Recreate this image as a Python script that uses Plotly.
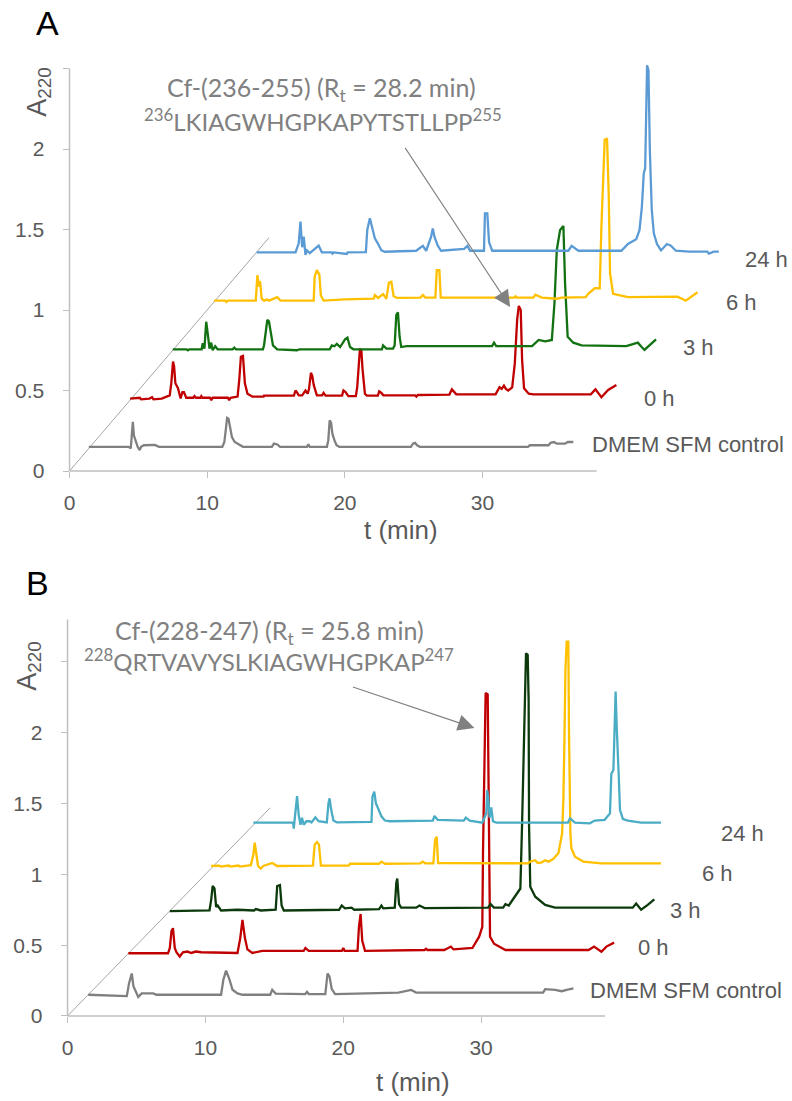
import plotly.graph_objects as go

W, H = 792, 1101          # reference picture size (all layout positions are given in its pixels)
H_PAGE = 1112             # figure height: the photograph maps 1112 page rows onto 1101 picture rows
KY = H_PAGE / H

# ---------------- data (raw retention time in min, absorbance above each trace's baseline) ----------------
SAMPLES = ["DMEM SFM control", "0 h", "3 h", "6 h", "24 h"]
SHIFT_T = [1.5, 4.5, 7.5, 10.5, 13.5]      # pseudo-3D offsets of the stacked chromatograms
SHIFT_A = [0.15, 0.45, 0.75, 1.05, 1.35]

A_ctrl = [(-0.1, 0.0), (2.8, 0.0), (2.95, -0.01), (3.02, 0.08), (3.1, 0.155), (3.18, 0.07), (3.3, 0.04),
          (3.45, 0.0), (3.6, -0.02), (3.7, 0.0), (3.9, 0.01), (4.5, 0.01), (4.7, 0.012), (5.0, 0.0),
          (9.6, 0.0), (9.75, 0.03), (9.85, 0.12), (9.95, 0.18), (10.05, 0.175), (10.15, 0.12), (10.3, 0.06),
          (10.5, 0.03), (10.8, 0.015), (11.1, 0.0), (13.2, 0.0), (13.35, 0.02), (13.6, 0.015), (13.8, 0.0),
          (15.75, 0.0), (15.85, 0.015), (15.95, 0.0), (17.2, 0.0), (17.3, 0.04), (17.4, 0.165), (17.5, 0.15),
          (17.6, 0.08), (17.75, 0.04), (17.9, 0.01), (18.1, 0.0), (23.3, 0.0), (23.45, 0.02), (23.6, 0.025),
          (23.75, 0.01), (23.95, 0.0), (31.8, 0.0), (31.95, 0.01), (33.3, 0.01), (33.45, 0.025), (33.7, 0.03),
          (33.9, 0.02), (34.5, 0.02), (34.7, 0.03), (35.1, 0.03)]

A_0h = [(-0.1, 0.0), (0.6, 0.005), (0.7, -0.005), (1.3, 0.0), (1.5, 0.008), (1.6, -0.005), (2.2, 0.0),
        (2.78, 0.02), (2.9, 0.1), (3.02, 0.23), (3.1, 0.2), (3.19, 0.095), (3.38, 0.064), (3.57, 0.0),
        (3.7, 0.04), (3.81, 0.04), (3.98, 0.005), (4.5, 0.005), (4.58, 0.015), (4.7, 0.005), (5.0, 0.005),
        (5.07, 0.015), (5.15, 0.005), (5.7, 0.005), (5.8, -0.01), (5.9, 0.005), (7.0, 0.005), (7.1, -0.01),
        (7.2, 0.005), (7.71, 0.012), (7.83, 0.115), (7.95, 0.26), (8.1, 0.265), (8.24, 0.095), (8.43, 0.03),
        (8.79, 0.012), (9.6, 0.012), (9.63, 0.018), (11.8, 0.018), (11.92, 0.05), (12.05, 0.035),
        (12.15, 0.02), (12.4, 0.02), (12.64, 0.05), (12.8, 0.03), (12.9, 0.06), (13.04, 0.16), (13.14, 0.14),
        (13.24, 0.085), (13.47, 0.02), (13.85, 0.02), (13.96, 0.035), (14.1, 0.018), (15.3, 0.018),
        (15.4, 0.05), (15.55, 0.04), (15.76, 0.015), (16.3, 0.015), (16.4, 0.07), (16.5, 0.2), (16.6, 0.31),
        (16.7, 0.3), (16.79, 0.18), (16.96, 0.03), (17.1, 0.018), (17.9, 0.018), (18.0, 0.045),
        (18.15, 0.035), (18.3, 0.02), (20.6, 0.02), (20.7, 0.012), (20.8, 0.022), (23.1, 0.025),
        (23.28, 0.057), (23.45, 0.04), (23.6, 0.026), (26.45, 0.026), (26.74, 0.07), (26.9, 0.06),
        (27.06, 0.08), (27.2, 0.06), (27.37, 0.05), (27.66, 0.07), (27.85, 0.22), (28.02, 0.49),
        (28.14, 0.575), (28.28, 0.55), (28.38, 0.24), (28.52, 0.064), (28.86, 0.03), (29.2, 0.026),
        (33.37, 0.026), (33.71, 0.057), (34.14, 0.008), (34.63, 0.053), (35.23, 0.084)]

A_3h = [(0.0, 0.006), (1.0, 0.006), (1.1, 0.0), (1.2, 0.006), (2.1, 0.006), (2.18, 0.043), (2.3, 0.01),
        (2.43, 0.177), (2.54, 0.105), (2.67, 0.01), (2.79, 0.047), (2.9, 0.0), (3.08, 0.025), (3.26, 0.006),
        (4.35, 0.006), (4.47, 0.016), (4.6, 0.006), (6.55, 0.006), (6.63, 0.03), (6.75, 0.126), (6.87, 0.188),
        (6.99, 0.18), (7.11, 0.106), (7.28, 0.03), (7.59, 0.006), (9.03, 0.0), (9.2, 0.006), (11.4, 0.006),
        (11.56, 0.03), (11.75, 0.025), (11.92, 0.04), (12.16, 0.02), (12.52, 0.068), (12.69, 0.078),
        (12.88, 0.02), (13.12, 0.006), (15.2, 0.006), (15.28, 0.03), (15.52, 0.01), (16.0, 0.01),
        (16.12, 0.03), (16.24, 0.219), (16.36, 0.236), (16.48, 0.084), (16.6, 0.02), (17.0, 0.026),
        (23.2, 0.026), (23.34, 0.047), (23.5, 0.026), (26.1, 0.026), (26.22, 0.035), (26.58, 0.064),
        (27.06, 0.055), (27.54, 0.064), (27.73, 0.292), (27.9, 0.623), (28.14, 0.747), (28.38, 0.772),
        (28.5, 0.416), (28.69, 0.084), (29.1, 0.047), (29.7, 0.03), (32.95, 0.026), (33.79, 0.047),
        (34.0, 0.026), (34.27, 0.002), (35.11, 0.068)]

A_6h = [(0.0, 0.008), (0.8, 0.008), (0.9, 0.0), (1.0, 0.008), (2.5, 0.008), (3.03, 0.008), (3.15, 0.167),
        (3.27, 0.095), (3.34, 0.13), (3.46, 0.02), (3.63, 0.008), (3.87, 0.015), (4.0, 0.008), (4.59, 0.03),
        (4.83, 0.008), (7.24, 0.008), (7.31, 0.157), (7.47, 0.198), (7.65, 0.17), (7.76, 0.04), (7.96, 0.008),
        (9.52, 0.016), (11.6, 0.02), (11.68, 0.043), (11.92, 0.025), (12.28, 0.049), (12.52, 0.02),
        (12.7, 0.12), (12.88, 0.125), (13.05, 0.035), (13.3, 0.025), (15.0, 0.027), (15.17, 0.043),
        (15.35, 0.027), (16.08, 0.027), (16.18, 0.198), (16.37, 0.198), (16.47, 0.027), (21.8, 0.027),
        (21.9, 0.035), (22.0, 0.027), (23.2, 0.027), (23.34, 0.045), (23.82, 0.027), (24.9, 0.02),
        (25.26, 0.027), (27.0, 0.03), (27.18, 0.05), (27.66, 0.085), (28.02, 0.085), (28.14, 0.467),
        (28.26, 0.8), (28.38, 1.006), (28.55, 1.016), (28.67, 0.675), (28.77, 0.178), (28.99, 0.05),
        (30.07, 0.03), (33.5, 0.03), (33.67, 0.033), (34.27, 0.008), (35.12, 0.06)]

A_24h = [(0.1, 0.008), (2.92, 0.008), (3.15, 0.064), (3.28, 0.199), (3.4, 0.04), (3.52, 0.105), (3.64, -0.008),
         (3.75, 0.02), (3.95, 0.003), (4.47, 0.04), (4.6, 0.05), (4.83, 0.008), (5.56, 0.008), (5.6, 0.0),
         (5.7, 0.008), (6.64, -0.002), (6.7, 0.008), (8.03, 0.01), (8.13, 0.147), (8.32, 0.22), (8.5, 0.147),
         (8.68, 0.095), (8.92, 0.06), (9.16, 0.02), (9.4, 0.012), (11.68, 0.018), (12.17, 0.048),
         (12.41, 0.018), (12.77, 0.105), (12.89, 0.157), (13.01, 0.105), (13.25, 0.05), (13.49, 0.018),
         (15.17, 0.03), (15.41, 0.048), (15.6, 0.018), (16.61, 0.018), (16.68, 0.25), (16.85, 0.25),
         (16.98, 0.07), (17.21, 0.018), (22.74, 0.018), (22.98, 0.048), (23.47, 0.018), (26.59, 0.018),
         (27.07, 0.06), (27.67, 0.089), (27.91, 0.147), (28.08, 0.29), (28.22, 0.5), (28.32, 0.53),
         (28.39, 0.913), (28.46, 1.17), (28.56, 1.14), (28.66, 0.644), (28.8, 0.271), (28.95, 0.126),
         (29.18, 0.06), (29.47, 0.02), (29.9, 0.06), (30.19, 0.05), (30.55, 0.018), (31.51, 0.012),
         (32.84, 0.012), (32.95, 0.0), (33.31, 0.012), (33.67, 0.012)]

B_ctrl = [(0.0, 0.0), (2.8, -0.01), (2.96, 0.08), (3.16, 0.15), (3.28, 0.06), (3.4, 0.035), (3.63, -0.015),
          (3.88, 0.01), (4.35, 0.008), (4.71, 0.01), (4.95, 0.0), (9.64, 0.0), (9.8, 0.104), (10.0, 0.17),
          (10.24, 0.11), (10.47, 0.035), (10.83, 0.01), (11.2, 0.0), (13.2, 0.0), (13.35, 0.035), (13.6, 0.008),
          (15.75, 0.005), (15.87, 0.02), (16.0, 0.005), (17.2, 0.005), (17.36, 0.15), (17.5, 0.13),
          (17.67, 0.04), (17.91, 0.005), (22.5, 0.015), (23.43, 0.034), (23.79, 0.015), (33.0, 0.015),
          (33.15, 0.04), (33.87, 0.035), (34.35, 0.025), (34.71, 0.035), (35.2, 0.045)]

B_0h = [(-0.09, -0.007), (2.79, -0.007), (2.92, 0.03), (3.04, 0.15), (3.15, 0.17), (3.28, 0.03), (3.4, 0.0),
        (3.64, -0.03), (3.87, 0.0), (4.2, 0.005), (4.48, -0.005), (4.8, 0.005), (5.2, 0.0), (7.83, -0.005),
        (8.03, 0.1), (8.19, 0.228), (8.37, 0.1), (8.55, 0.02), (8.91, -0.005), (9.63, 0.01), (12.63, 0.01),
        (12.76, 0.03), (12.99, 0.01), (15.4, 0.01), (15.51, 0.03), (15.6, 0.01), (16.54, 0.01), (16.64, 0.18),
        (16.76, 0.27), (16.88, 0.08), (17.08, 0.01), (21.4, 0.016), (21.51, 0.025), (21.6, 0.016),
        (22.83, 0.016), (23.31, 0.04), (23.5, 0.02), (24.87, 0.03), (25.36, 0.11), (25.59, 0.18), (25.64, 0.7),
        (25.74, 1.24), (25.83, 1.83), (25.98, 1.82), (26.03, 1.26), (26.1, 0.37), (26.15, 0.11), (26.44, 0.06),
        (26.8, 0.04), (27.27, 0.016), (33.3, 0.016), (33.7, 0.04), (34.23, 0.004), (34.59, 0.04), (35.15, 0.068)]

B_3h = [(-0.08, -0.009), (2.8, -0.005), (2.92, 0.07), (3.03, 0.168), (3.16, 0.15), (3.28, 0.02), (3.39, 0.03),
        (3.64, -0.005), (4.83, 0.0), (6.03, -0.005), (6.16, 0.005), (6.52, -0.005), (7.6, 0.0), (7.71, 0.168),
        (7.91, 0.175), (8.03, 0.03), (8.19, -0.005), (12.2, 0.0), (12.39, 0.03), (12.63, 0.01), (13.11, 0.015),
        (13.3, 0.0), (15.1, 0.005), (15.27, 0.03), (15.4, 0.01), (16.24, 0.015), (16.35, 0.19), (16.42, 0.22),
        (16.55, 0.04), (16.7, 0.015), (17.79, 0.015), (18.03, 0.03), (18.4, 0.012), (23.0, 0.015),
        (23.19, 0.04), (23.43, 0.015), (24.1, 0.015), (24.27, 0.04), (24.51, 0.03), (24.99, 0.1), (25.35, 0.15),
        (25.47, 0.586), (25.67, 1.387), (25.76, 1.81), (25.88, 1.8), (25.95, 1.48), (25.98, 0.6),
        (26.07, 0.163), (26.43, 0.092), (27.15, 0.034), (27.87, 0.015), (33.5, 0.015), (33.75, 0.044),
        (34.11, 0.0), (34.59, 0.035), (35.07, 0.074)]

B_6h = [(-0.08, 0.009), (0.5, 0.012), (0.6, 0.005), (1.2, 0.012), (1.3, 0.005), (1.9, 0.012), (2.0, 0.005),
        (2.8, 0.015), (2.98, 0.09), (3.08, 0.173), (3.2, 0.09), (3.32, 0.009), (3.52, -0.01), (3.7, 0.009),
        (4.35, 0.03), (4.71, 0.009), (7.3, 0.012), (7.43, 0.16), (7.59, 0.178), (7.74, 0.16), (7.88, 0.012),
        (9.9, 0.012), (10.0, 0.025), (12.1, 0.025), (12.27, 0.04), (12.52, 0.025), (15.1, 0.028),
        (15.27, 0.04), (15.45, 0.028), (16.04, 0.028), (16.16, 0.192), (16.28, 0.216), (16.38, 0.03),
        (22.9, 0.028), (23.07, 0.04), (23.43, 0.05), (23.6, 0.03), (23.9, 0.035), (24.15, 0.05), (24.4, 0.04),
        (24.75, 0.06), (25.11, 0.1), (25.38, 0.24), (25.47, 0.475), (25.55, 0.922), (25.62, 1.393),
        (25.71, 1.593), (25.83, 1.593), (25.88, 0.946), (25.98, 0.24), (26.05, 0.134), (26.31, 0.075),
        (26.91, 0.04), (28.23, 0.028), (32.55, 0.028)]

B_24h = [(-0.02, 0.015), (2.86, 0.017), (2.91, -0.027), (3.04, 0.104), (3.15, 0.203), (3.27, 0.07), (3.4, 0.0),
         (3.51, 0.05), (3.63, 0.0), (3.83, 0.025), (4.07, 0.025), (4.2, 0.017), (4.48, 0.053), (4.71, 0.025),
         (5.31, 0.017), (5.43, 0.152), (5.51, 0.187), (5.63, 0.104), (5.79, 0.03), (6.03, 0.017), (8.55, 0.02),
         (8.62, 0.198), (8.75, 0.234), (8.87, 0.152), (9.03, 0.11), (9.27, 0.06), (9.52, 0.03), (9.88, 0.025),
         (13.0, 0.029), (13.12, 0.062), (13.35, 0.035), (15.25, 0.029), (15.39, 0.05), (15.68, 0.029),
         (16.59, 0.015), (16.88, 0.081), (16.95, 0.245), (17.03, 0.18), (17.12, 0.05), (17.24, 0.123),
         (17.36, 0.025), (17.6, 0.015), (22.8, 0.015), (22.95, 0.046), (23.31, 0.015), (24.39, 0.01),
         (24.75, 0.03), (25.47, 0.035), (25.85, 0.08), (25.95, 0.36), (26.1, 0.387), (26.19, 0.692),
         (26.26, 0.94), (26.34, 0.69), (26.38, 0.551), (26.48, 0.36), (26.58, 0.104), (26.79, 0.04),
         (27.15, 0.03), (28.11, 0.015), (29.55, 0.015)]

PANEL_A = [A_ctrl, A_0h, A_3h, A_6h, A_24h]
PANEL_B = [B_ctrl, B_0h, B_3h, B_6h, B_24h]

X_TICKS = [0, 10, 20, 30]
Y_TICKS = [0, 0.5, 1, 1.5, 2, 2.5]
Y_TICKTEXT = ["0", "0.5", "1", "1.5", "2", ""]

# ---------------- styling ----------------
COLORS_A = ["#808080", "#c00000", "#127212", "#ffc000", "#5b9bd5"]
COLORS_B = ["#808080", "#c00000", "#0c3a0c", "#ffc000", "#4bacc6"]
AXIS_COL = "#bfbfbf"
TXT_COL = "#595959"
ANN_COL = "#808080"
ARIAL = "Liberation Sans, Arial, sans-serif"
CAL = "Lato, Carlito, Calibri, sans-serif"


def pxx(x):
    return x / W


def pxy(y):
    return 1 - y / H


fig = go.Figure()

for panel, colors, xa, ya in [(PANEL_A, COLORS_A, "x", "y"), (PANEL_B, COLORS_B, "x2", "y2")]:
    for i, trace in enumerate(panel):
        t = [p[0] + SHIFT_T[i] for p in trace]
        a = [p[1] + SHIFT_A[i] for p in trace]
        fig.add_trace(go.Scatter(x=t, y=a, mode="lines", name=SAMPLES[i], showlegend=False,
                                 line=dict(color=colors[i], width=2.3), xaxis=xa, yaxis=ya,
                                 hoverinfo="skip"))

# axis geometry (reference pixels)
A_org = (64, 471); A_xpx = 13.87; A_ypx = 161.0
B_org = (62, 1016); B_xpx = 13.89; B_ypx = 141.65
A_xr = [0, 48]; A_yr = [0, 2.6]
B_xr = [0, 44]; B_yr = [0, 2.85]

common_x = dict(showgrid=False, zeroline=False, showline=False, ticks="outside", ticklen=6, tickwidth=1,
                tickcolor=AXIS_COL, tickvals=X_TICKS, tickfont=dict(family=ARIAL, size=21, color=TXT_COL),
                fixedrange=True, ticklabelstandoff=7)
common_y = dict(showgrid=False, zeroline=False, showline=False, ticks="outside", ticklen=6, tickwidth=1,
                tickcolor=AXIS_COL, tickvals=Y_TICKS, ticktext=Y_TICKTEXT,
                tickfont=dict(family=ARIAL, size=21, color=TXT_COL), fixedrange=True, ticklabelstandoff=14)

fig.update_layout(
    width=W, height=H_PAGE, margin=dict(l=0, r=0, t=0, b=0), autosize=False,
    paper_bgcolor="white", plot_bgcolor="rgba(0,0,0,0)",
    xaxis=dict(common_x, range=A_xr, anchor="y",
               domain=[pxx(A_org[0]), pxx(A_org[0] + A_xr[1] * A_xpx)]),
    yaxis=dict(common_y, range=A_yr, anchor="x",
               domain=[pxy(A_org[1]), pxy(A_org[1] - A_yr[1] * A_ypx)]),
    xaxis2=dict(common_x, range=B_xr, anchor="y2",
                domain=[pxx(B_org[0]), pxx(B_org[0] + B_xr[1] * B_xpx)]),
    yaxis2=dict(common_y, range=B_yr, anchor="x2",
                domain=[pxy(B_org[1]), pxy(B_org[1] - B_yr[1] * B_ypx)]),
)

shapes = []
# axis lines (paper coords from pixel geometry)
for org, xpx, ypx, xend, ytop in [(A_org, A_xpx, A_ypx, 38.3, 2.5), (B_org, B_xpx, B_ypx, 39.0, 2.8)]:
    shapes.append(dict(type="line", xref="paper", yref="paper", x0=pxx(org[0]), y0=pxy(org[1]),
                       x1=pxx(org[0] + xend * xpx), y1=pxy(org[1]), line=dict(color=AXIS_COL, width=1.5)))
    shapes.append(dict(type="line", xref="paper", yref="paper", x0=pxx(org[0]), y0=pxy(org[1]),
                       x1=pxx(org[0]), y1=pxy(org[1] - ytop * ypx), line=dict(color=AXIS_COL, width=1.5)))
# depth diagonal
shapes.append(dict(type="line", xref="x", yref="y", x0=0, y0=0, x1=14.5, y1=1.45,
                   line=dict(color="#a6a6a6", width=1), layer="below"))
shapes.append(dict(type="line", xref="x2", yref="y2", x0=0, y0=0, x1=14.7, y1=1.47,
                   line=dict(color="#a6a6a6", width=1), layer="below"))
fig.update_layout(shapes=shapes)

ann = []


def text(x, y, s, size, color=TXT_COL, family=ARIAL, angle=0, xanchor="center"):
    ann.append(dict(x=pxx(x), y=pxy(y), xref="paper", yref="paper", text=s, showarrow=False,
                    xanchor=xanchor, yanchor="middle", textangle=angle, borderpad=0,
                    font=dict(family=family, size=size, color=color)))


# panel letters
text(42, 23, "A", 34, color="black")
text(32, 583, "B", 34, color="black")
# axis titles
text(33, 92, "A<sub>220</sub>", 27, angle=-90)
text(23, 666, "A<sub>220</sub>", 27, angle=-90)
text(398, 530, "t (min)", 26)
text(410, 1082, "t (min)", 26)
# sample labels
A_lab = [(687, 445), (658, 398), (698, 347), (741, 302), (766, 259)]
B_lab = [(685, 990), (652, 948), (685, 910), (717, 873), (742, 833)]
for i, s in enumerate(SAMPLES):
    text(A_lab[i][0], A_lab[i][1], s, 22)
    text(B_lab[i][0], B_lab[i][1], s, 22)
# peptide annotations
text(318, 89, "Cf-(236-255) (R<sub>t</sub> = 28.2 min)", 25, color=ANN_COL, family=CAL)
text(319, 120, "<sup>236</sup>LKIAGWHGPKAPYTSTLLPP<sup>255</sup>", 24, color=ANN_COL, family=CAL)
text(266, 632, "Cf-(228-247) (R<sub>t</sub> = 25.8 min)", 25, color=ANN_COL, family=CAL)
text(265, 660, "<sup>228</sup>QRTVAVYSLKIAGWHGPKAP<sup>247</sup>", 24, color=ANN_COL, family=CAL)

# arrows
for tail, tip in [((402, 148), (508, 307)), ((349, 687), (472, 728))]:
    ann.append(dict(x=pxx(tip[0]), y=pxy(tip[1]), xref="paper", yref="paper", text="",
                    showarrow=True, ax=tail[0] - tip[0], ay=(tail[1] - tip[1]) * KY, axref="pixel",
                    ayref="pixel", arrowhead=2, arrowsize=3, arrowwidth=1.1, arrowcolor=ANN_COL))

fig.update_layout(annotations=ann)

fig.write_html("out.html", config={"displayModeBar": False},
               post_script="document.body.style.margin='0';document.body.style.overflow='hidden';")
